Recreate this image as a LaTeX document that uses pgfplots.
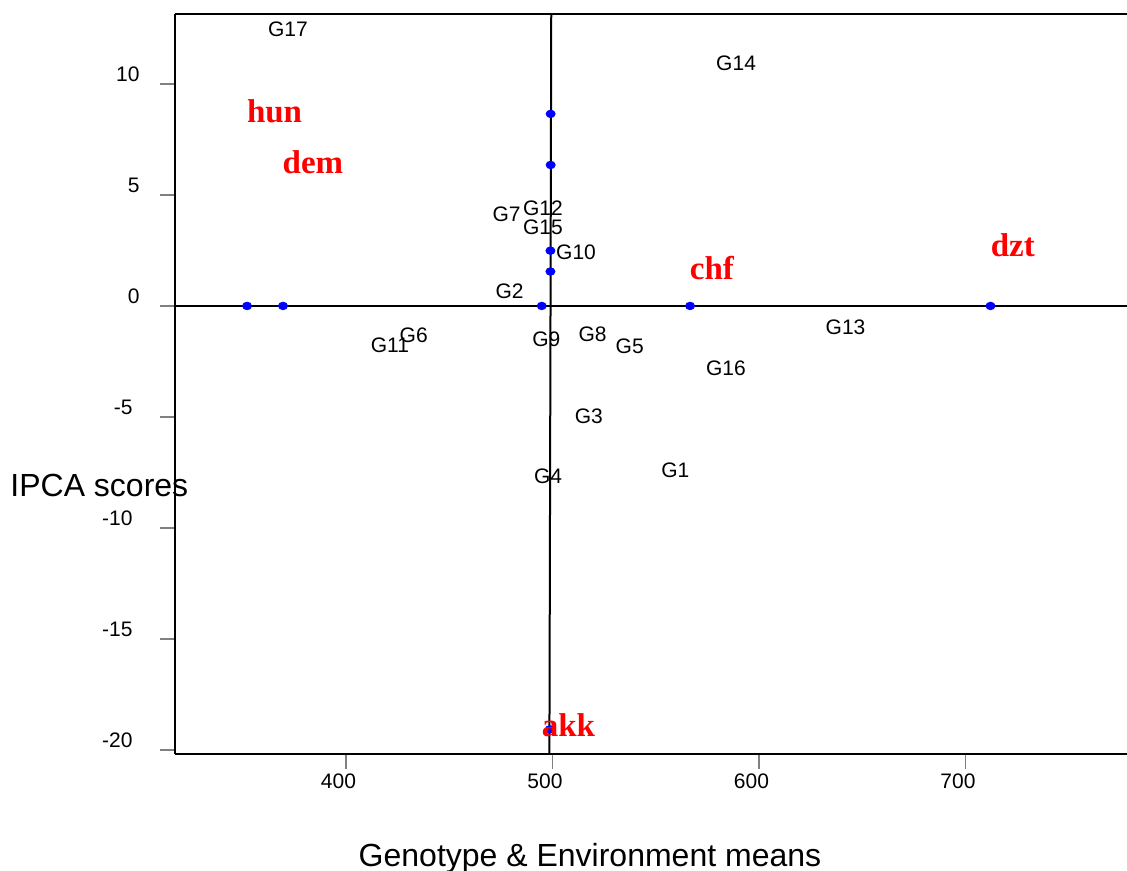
\documentclass[border=0pt]{standalone}
\usepackage{fontspec}
\setmainfont{Liberation Sans}
\newfontfamily\labserif{Liberation Serif}
\usepackage{pgfplots}
\pgfplotsset{compat=1.18}

\begin{document}
\begin{tikzpicture}
\useasboundingbox (-87.5bp,-58.5bp) rectangle (476bp,377bp);
\begin{axis}[
  at={(0,0)}, anchor=south west,
  width=476bp, height=370bp, scale only axis,
  xmin=317.2, xmax=778.2, ymin=-20.18, ymax=13.15,
  axis x line*=box, axis y line*=left,
  xtick pos=bottom, ytick pos=left,
  axis line style={black, line width=0.6bp},
  xtick={400,500,600,700}, ytick={-20,-15,-10,-5,0,5,10},
  yticklabels={{-20\kern3.5bp},{-15\kern3.5bp},{-10\kern3.5bp},{-5\kern3.5bp},{0},{5},{10}},
  tick align=outside, major tick length=7.5bp,
  tick style={gray, line width=0.6bp},
  /pgf/number format/assume math mode=true,
  ticklabel style={font=\fontsize{10.5bp}{12bp}\selectfont, inner sep=0pt},
  xticklabel style={anchor=base, xshift=-3.75bp, yshift=-9.5bp},
  yticklabel style={anchor=base east, xshift=-10bp, yshift=1.25bp},
  clip=false,
]
% reference lines through the origin of the biplot
\addplot[black, line width=1bp] coordinates {(317.2,0) (778.2,0)};
\addplot[black, line width=1bp] coordinates {(499.4,13.15) (498.5,-20.18)};

% environment points
\addplot[only marks, mark=*, blue, mark size=1.9bp, mark options={xscale=1.2}]
  coordinates {(352.1,0) (369.5,0) (494.8,0) (566.6,0) (712.1,0)
               (499.1,8.65) (499.1,6.35) (499.0,2.49) (499.0,1.55) (498.7,-19.07)};

% genotype labels
\addplot[only marks, mark=none, nodes near coords, point meta=explicit symbolic,
  every node near coord/.append style={anchor=center, inner sep=0pt, black,
    font=\fontsize{10.5bp}{12bp}\selectfont}]
  coordinates {
    (559.5,-7.41) [G1]
    (479.2,0.68) [G2]
    (517.6,-4.97) [G3]
    (497.9,-7.67) [G4]
    (537.4,-1.81) [G5]
    (432.8,-1.34) [G6]
    (477.8,4.11) [G7]
    (519.4,-1.27) [G8]
    (497.0,-1.50) [G9]
    (511.4,2.40) [G10]
    (421.3,-1.78) [G11]
    (495.4,4.38) [G12]
    (641.9,-0.97) [G13]
    (588.9,10.95) [G14]
    (495.4,3.53) [G15]
    (584.0,-2.79) [G16]
    (371.9,12.45) [G17]
  };

% environment labels
\addplot[only marks, mark=none, nodes near coords, point meta=explicit symbolic,
  every node near coord/.append style={anchor=base, inner sep=0pt, red,
    font=\labserif\bfseries\fontsize{16.5bp}{18bp}\selectfont}]
  coordinates {
    (365.4,8.26) [hun]
    (384.0,5.98) [dem]
    (577.2,1.20) [chf]
    (722.9,2.22) [dzt]
    (507.7,-19.40) [akk]
  };

\node[anchor=west, inner sep=0pt, font=\fontsize{16bp}{19bp}\selectfont]
  at (axis description cs:-0.1733,0.3622) {IPCA scores};
\node[anchor=base, inner sep=0pt, font=\fontsize{16bp}{19bp}\selectfont]
  at (axis description cs:0.4359,-0.1523) {Genotype \& Environment means};
\end{axis}
\end{tikzpicture}
\end{document}
